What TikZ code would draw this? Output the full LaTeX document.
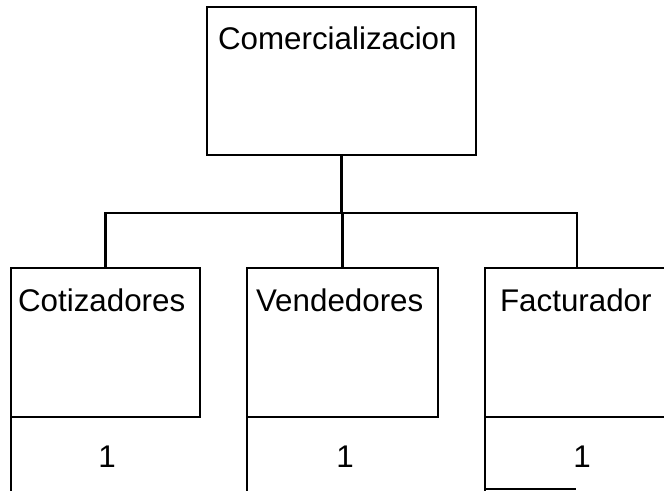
\documentclass[tikz,border=0pt]{standalone}
\usepackage{fontspec}
\setmainfont{Liberation Sans}
\begin{document}
\begin{tikzpicture}[x=0.75pt,y=-0.75pt,
  line width=1.6pt,
  unitbox/.style={draw, line width=1.6pt, inner sep=0pt, outer sep=0pt,
                  anchor=north west, minimum height=#1},
  title/.style={anchor=base west, inner sep=0pt, font=\fontsize{23.5}{28}\selectfont},
  count/.style={anchor=base, inner sep=0pt, font=\fontsize{23.5}{28}\selectfont},
  link/.style={line width=1.6pt, line cap=rect}]
  \useasboundingbox (0,0) rectangle (664,491);
  \clip (0,0) rectangle (664,491);

  % head of the organisation
  \node[unitbox=111pt, minimum width=201.75pt] (com) at (207,7) {};
  \node[title] (comT) at (217,50) {Comercializacion};

  % the three units below it
  \node[unitbox=111.75pt, minimum width=141.75pt] (cot) at (11,268) {};
  \node[unitbox=111.75pt, minimum width=143.25pt] (ven) at (247,268) {};
  \node[unitbox=111.75pt, minimum width=138pt] (fac) at (485,268) {};

  \node[title] (cotT) at (17,312) {Cotizadores};
  \node[title] (venT) at (255,312) {Vendedores};
  \node[title] (facT) at (499,312) {Facturador};

  % staff count section under each unit: the left side runs on down
  \coordinate (cotB) at (11,495);
  \coordinate (venB) at (247,495);
  \coordinate (facB) at (485,495);
  \coordinate (facE) at (575,489);
  \draw[link] (cot.north west) -- (cotB);
  \draw[link] (ven.north west) -- (venB);
  \draw[link] (fac.north west) -- (facB);
  \draw[link] (fac.west |- facE) -- (facE);

  \node[count] (cotN) at (107,468) {1};
  \node[count] (venN) at (345,468) {1};
  \node[count] (facN) at (582,468) {1};

  % tree connectors
  \coordinate (bus) at (340,213);
  \draw[link] (com.south) -- (com.south |- bus);
  \draw[link] (com.south |- bus) -| (cot.north);
  \draw[link] (com.south |- bus) -| (fac.north);
  \draw[link] (com.south |- bus) -| (ven.north);
\end{tikzpicture}
\end{document}
